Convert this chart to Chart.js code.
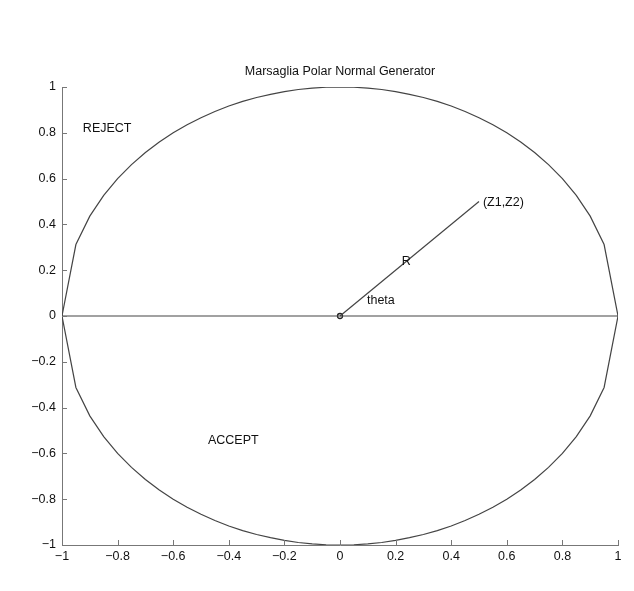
<!DOCTYPE html>
<html>
<head>
<meta charset="utf-8">
<script src="https://cdn.jsdelivr.net/npm/chart.js@4/dist/chart.umd.min.js"></script>
<style>
  body { margin: 0; background: #fff; }
  canvas { display: block; }
</style>
</head>
<body>
<canvas id="polarChart" width="634" height="591"></canvas>
<script>
// circle outline, sampled every 0.05 in x
const circleX = [-1, -0.95, -0.9, -0.85, -0.8, -0.75, -0.7, -0.65, -0.6, -0.55, -0.5, -0.45, -0.4, -0.35, -0.3, -0.25, -0.2, -0.15, -0.1, -0.05,
    0, 0.05, 0.1, 0.15, 0.2, 0.25, 0.3, 0.35, 0.4, 0.45, 0.5, 0.55, 0.6, 0.65, 0.7, 0.75, 0.8, 0.85, 0.9, 0.95, 1];
const upperY = [0, 0.312, 0.436, 0.527, 0.6, 0.661, 0.714, 0.760, 0.8, 0.835, 0.866, 0.893, 0.917, 0.937, 0.954, 0.968, 0.980, 0.989, 0.995, 0.999,
    1, 0.999, 0.995, 0.989, 0.980, 0.968, 0.954, 0.937, 0.917, 0.893, 0.866, 0.835, 0.8, 0.760, 0.714, 0.661, 0.6, 0.527, 0.436, 0.312, 0];
const lowerY = [0, -0.312, -0.436, -0.527, -0.6, -0.661, -0.714, -0.760, -0.8, -0.835, -0.866, -0.893, -0.917, -0.937, -0.954, -0.968, -0.980, -0.989, -0.995, -0.999,
    -1, -0.999, -0.995, -0.989, -0.980, -0.968, -0.954, -0.937, -0.917, -0.893, -0.866, -0.835, -0.8, -0.760, -0.714, -0.661, -0.6, -0.527, -0.436, -0.312, 0];

const axisLineX = [-1, 1];
const axisLineY = [0, 0];
const radiusX = [0, 0.5];
const radiusY = [0, 0.5];
const originPoint = [0, 0];

const xTicks = [-1, -0.8, -0.6, -0.4, -0.2, 0, 0.2, 0.4, 0.6, 0.8, 1];
const yTicks = [-1, -0.8, -0.6, -0.4, -0.2, 0, 0.2, 0.4, 0.6, 0.8, 1];

const annotations = [
    { text: "REJECT", x: -0.925, y: 0.82 },
    { text: "ACCEPT", x: -0.475, y: -0.546 },
    { text: "R", x: 0.222, y: 0.236 },
    { text: "theta", x: 0.097, y: 0.066 },
    { text: "(Z1,Z2)", x: 0.514, y: 0.494 }
];
const chartTitle = "Marsaglia Polar Normal Generator";

const FONT = "Liberation Sans, Arial, Helvetica, sans-serif";
const LINE = "#444";

function toPoints(xs, ys) {
    return xs.map((x, i) => ({ x: x, y: ys[i] }));
}

function fmt(v) {
    const r = Math.round(v * 10) / 10;
    return String(r).replace("-", "\u2212");
}

const lineDefaults = {
    showLine: true,
    pointRadius: 0,
    borderColor: LINE,
    borderWidth: 1.2,
    fill: false,
    tension: 0
};

const extras = {
    id: "extras",
    afterDraw(chart) {
        const ctx = chart.ctx;
        const xs = chart.scales.x;
        const ys = chart.scales.y;
        ctx.save();
        // inward tick marks
        ctx.strokeStyle = "#777";
        ctx.lineWidth = 1;
        ctx.beginPath();
        xTicks.forEach(v => {
            const px = Math.round(xs.getPixelForValue(v)) + 0.5;
            ctx.moveTo(px, ys.bottom);
            ctx.lineTo(px, ys.bottom - 5);
        });
        yTicks.forEach(v => {
            const py = Math.round(ys.getPixelForValue(v)) + 0.5;
            ctx.moveTo(xs.left, py);
            ctx.lineTo(xs.left + 5, py);
        });
        ctx.stroke();

        // text labels
        ctx.fillStyle = "#111";
        ctx.font = "12.5px " + FONT;
        ctx.textBaseline = "middle";
        ctx.textAlign = "left";
        annotations.forEach(a => {
            ctx.fillText(a.text, xs.getPixelForValue(a.x), ys.getPixelForValue(a.y));
        });

        ctx.textAlign = "center";
        ctx.fillText(chartTitle, (xs.left + xs.right) / 2, ys.top - 15);
        ctx.restore();
    }
};

new Chart(document.getElementById("polarChart"), {
    type: "scatter",
    data: {
        datasets: [
            Object.assign({ data: toPoints(circleX, upperY) }, lineDefaults),
            Object.assign({ data: toPoints(circleX, lowerY) }, lineDefaults),
            Object.assign({ data: toPoints(axisLineX, axisLineY) }, lineDefaults),
            Object.assign({ data: toPoints(radiusX, radiusY) }, lineDefaults),
            {
                data: [{ x: originPoint[0], y: originPoint[1] }],
                pointRadius: 2.5,
                pointStyle: "circle",
                pointBackgroundColor: "rgba(0,0,0,0)",
                pointBorderColor: "#222",
                pointBorderWidth: 1.3,
                showLine: false
            }
        ]
    },
    options: {
        responsive: false,
        animation: false,
        events: [],
        layout: { padding: { left: 0, right: 16, top: 87, bottom: 0 } },
        plugins: {
            legend: { display: false },
            tooltip: { enabled: false }
        },
        scales: {
            x: {
                type: "linear",
                min: -1,
                max: 1,
                afterBuildTicks: s => { s.ticks = xTicks.map(v => ({ value: v })); },
                afterFit: s => { s.height = 46; },
                grid: { display: false, drawTicks: false },
                border: { display: true, color: "#777", width: 1 },
                ticks: {
                    color: "#111",
                    font: { family: FONT, size: 12.5 },
                    padding: 4,
                    maxRotation: 0,
                    autoSkip: false,
                    callback: v => fmt(v)
                }
            },
            y: {
                type: "linear",
                min: -1,
                max: 1,
                afterBuildTicks: s => { s.ticks = yTicks.map(v => ({ value: v })); },
                afterFit: s => { s.width = 62; },
                grid: { display: false, drawTicks: false },
                border: { display: true, color: "#777", width: 1 },
                ticks: {
                    color: "#111",
                    font: { family: FONT, size: 12.5 },
                    padding: 6,
                    autoSkip: false,
                    callback: v => fmt(v)
                }
            }
        }
    },
    plugins: [extras]
});
</script>
</body>
</html>
